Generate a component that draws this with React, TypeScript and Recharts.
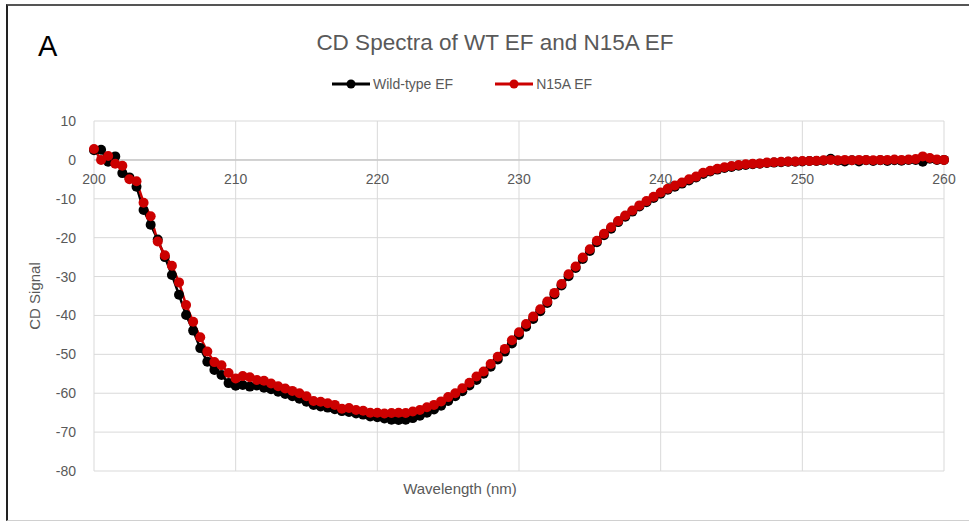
import React from "react";
import { LineChart, Line, XAxis, YAxis, CartesianGrid, Legend, ReferenceLine, Label } from "recharts";

const wavelengths = [
  200, 200.5, 201, 201.5, 202, 202.5, 203, 203.5, 204, 204.5,
  205, 205.5, 206, 206.5, 207, 207.5, 208, 208.5, 209, 209.5,
  210, 210.5, 211, 211.5, 212, 212.5, 213, 213.5, 214, 214.5,
  215, 215.5, 216, 216.5, 217, 217.5, 218, 218.5, 219, 219.5,
  220, 220.5, 221, 221.5, 222, 222.5, 223, 223.5, 224, 224.5,
  225, 225.5, 226, 226.5, 227, 227.5, 228, 228.5, 229, 229.5,
  230, 230.5, 231, 231.5, 232, 232.5, 233, 233.5, 234, 234.5,
  235, 235.5, 236, 236.5, 237, 237.5, 238, 238.5, 239, 239.5,
  240, 240.5, 241, 241.5, 242, 242.5, 243, 243.5, 244, 244.5,
  245, 245.5, 246, 246.5, 247, 247.5, 248, 248.5, 249, 249.5,
  250, 250.5, 251, 251.5, 252, 252.5, 253, 253.5, 254, 254.5,
  255, 255.5, 256, 256.5, 257, 257.5, 258, 258.5, 259, 259.5,
  260,
];

const wildType = [
  2.5, 2.6, -0.5, 0.9, -3.4, -4.5, -6.9, -12.9, -16.7, -20.5,
  -25.0, -29.6, -34.7, -39.9, -43.9, -48.4, -51.9, -54.0, -55.3, -57.4,
  -58.1, -57.9, -58.3, -58.0, -58.6, -59.0, -59.6, -60.2, -60.8, -61.4,
  -62.2, -63.0, -63.4, -63.7, -64.1, -64.6, -64.8, -65.2, -65.5, -66.0,
  -66.2, -66.5, -66.8, -66.9, -66.8, -66.4, -65.8, -65.0, -64.2, -63.2,
  -62.0, -60.8, -59.5, -58.0, -56.6, -55.0, -53.2, -51.3, -49.3, -47.2,
  -45.0, -42.9, -40.9, -38.9, -36.8, -34.6, -32.3, -29.9, -27.8, -25.5,
  -23.4, -21.2, -19.4, -17.7, -16.0, -14.6, -13.3, -12.0, -10.9, -9.8,
  -8.7, -7.7, -6.9, -6.1, -5.3, -4.5, -3.6, -3.0, -2.5, -2.1,
  -1.8, -1.5, -1.3, -1.1, -1.0, -0.8, -0.7, -0.6, -0.5, -0.5,
  -0.4, -0.3, -0.3, -0.2, 0.3, -0.2, -0.4, -0.1, -0.4, -0.1,
  -0.3, -0.1, -0.3, -0.1, -0.2, 0.0, 0.0, -0.5, 0.3, 0.0,
  0.0,
];

const n15a = [
  2.8, 0.0, 1.0, -1.0, -1.5, -5.0, -5.5, -11.0, -14.5, -21.0,
  -24.5, -27.2, -31.5, -37.3, -41.6, -45.6, -49.3, -52.0, -52.8, -54.8,
  -56.2, -55.6, -55.9, -56.6, -56.8, -57.5, -58.2, -58.8, -59.4, -60.0,
  -60.8, -62.0, -62.2, -62.6, -63.0, -64.0, -63.8, -64.3, -64.5, -65.0,
  -65.0, -65.2, -65.1, -65.0, -65.1, -64.7, -64.3, -63.6, -63.0, -62.1,
  -61.0, -60.0, -58.7, -57.3, -55.7, -54.4, -52.5, -50.6, -48.6, -46.4,
  -44.3, -42.2, -40.3, -38.4, -36.4, -34.2, -31.9, -29.4, -27.4, -25.1,
  -23.0, -20.8, -19.0, -17.3, -15.7, -14.3, -13.0, -11.7, -10.6, -9.5,
  -8.4, -7.4, -6.6, -5.8, -5.0, -4.3, -3.3, -2.8, -2.3, -1.9,
  -1.6, -1.3, -1.1, -1.0, -0.9, -0.7, -0.6, -0.5, -0.4, -0.4,
  -0.3, -0.3, -0.2, -0.1, 0.0, -0.1, 0.0, -0.1, 0.0, 0.0,
  -0.1, 0.0, 0.0, 0.1, 0.0, 0.1, 0.2, 0.9, 0.5, 0.1,
  0.0,
];

const xTicks = [200, 210, 220, 230, 240, 250, 260];
const yTicks = [-80, -70, -60, -50, -40, -30, -20, -10, 0, 10];
const seriesNames = ["Wild-type EF", "N15A EF"];
const seriesColors = ["#000000", "#cc0000"];

const data = wavelengths.map((w, i) => ({ w, wt: wildType[i], n15a: n15a[i] }));

const W = 969;
const H = 527;
const M_TOP = 121;
const X_AXIS_H = 20;
const M_BOTTOM = 36;
const PLOT_H = H - M_TOP - M_BOTTOM - X_AXIS_H;
const Y_MIN = -80;
const Y_MAX = 10;
// distance from the x-axis (plot bottom) up to the zero line, from the y scale
const ZERO_UP = (PLOT_H * (0 - Y_MIN)) / (Y_MAX - Y_MIN);

const FONT = "'Liberation Sans', Arial, sans-serif";

const XTick = (props: any) => {
  const { x, y, payload } = props;
  return (
    <text x={x} y={y - ZERO_UP + 16} textAnchor="middle" fill="#595959" fontSize={14} fontFamily={FONT}>
      {payload.value}
    </text>
  );
};

const LegendContent = () => (
  <div style={{ display: "flex", alignItems: "center", fontFamily: FONT, fontSize: 14, color: "#595959" }}>
    {seriesNames.map((n, i) => (
      <div key={n} style={{ display: "flex", alignItems: "center", marginRight: i === 0 ? 42 : 0 }}>
        <svg width={38} height={12} style={{ marginRight: 3 }}>
          <line x1={0} y1={6} x2={38} y2={6} stroke={seriesColors[i]} strokeWidth={3} />
          <circle cx={19} cy={6} r={4.5} fill={seriesColors[i]} />
        </svg>
        <span>{n}</span>
      </div>
    ))}
  </div>
);

export default function App() {
  return (
    <div style={{ position: "absolute", left: 0, top: 0, width: W, height: H, background: "#fff", overflow: "hidden" }}>
      <div
        style={{
          position: "absolute",
          left: 6,
          top: 4,
          width: 1000,
          height: 517,
          borderLeft: "2px solid #222",
          borderTop: "2px solid #555",
          borderBottom: "1px solid #d0d0d0",
          boxSizing: "border-box",
        }}
      />
      <div
        style={{
          position: "absolute",
          left: 38,
          top: 30,
          fontFamily: FONT,
          fontSize: 29,
          color: "#000",
        }}
      >
        A
      </div>
      <div
        style={{
          position: "absolute",
          left: 0,
          width: 990,
          top: 30,
          textAlign: "center",
          fontFamily: FONT,
          fontSize: 22.5,
          color: "#595959",
        }}
      >
        CD Spectra of WT EF and N15A EF
      </div>
      <div style={{ position: "absolute", left: 0, top: 0 }}>
        <LineChart width={W} height={H} data={data} margin={{ top: M_TOP, right: 25, bottom: M_BOTTOM, left: 0 }}>
          <CartesianGrid stroke="#d9d9d9" strokeWidth={1} />
          <XAxis
            dataKey="w"
            type="number"
            domain={[200, 260]}
            ticks={xTicks}
            axisLine={false}
            tickLine={false}
            height={X_AXIS_H}
            tick={<XTick />}
            interval={0}
          />
          <YAxis
            type="number"
            domain={[Y_MIN, Y_MAX]}
            ticks={yTicks}
            axisLine={false}
            tickLine={false}
            width={94}
            tickMargin={12}
            interval={0}
            tick={{ fill: "#595959", fontSize: 14, fontFamily: FONT }}
          >
            <Label
              value="CD Signal"
              angle={-90}
              position="insideLeft"
              offset={35}
              style={{ fill: "#595959", fontSize: 15, fontFamily: FONT, textAnchor: "middle" }}
            />
          </YAxis>
          <ReferenceLine y={0} stroke="#c8c8c8" strokeWidth={1.5} />
          <Legend
            verticalAlign="middle"
            align="center"
            layout="horizontal"
            content={<LegendContent />}
            wrapperStyle={{ position: "absolute", top: 76, left: 332, width: 320 }}
          />
          <Line
            type="linear"
            dataKey="wt"
            name={seriesNames[0]}
            stroke={seriesColors[0]}
            strokeWidth={2.5}
            dot={{ r: 5, fill: seriesColors[0], stroke: seriesColors[0], strokeWidth: 0 }}
            isAnimationActive={false}
          />
          <Line
            type="linear"
            dataKey="n15a"
            name={seriesNames[1]}
            stroke={seriesColors[1]}
            strokeWidth={2.5}
            dot={{ r: 5, fill: seriesColors[1], stroke: seriesColors[1], strokeWidth: 0 }}
            isAnimationActive={false}
          />
        </LineChart>
      </div>
      <div
        style={{
          position: "absolute",
          left: 360,
          width: 200,
          top: 480,
          textAlign: "center",
          fontFamily: FONT,
          fontSize: 15,
          color: "#595959",
        }}
      >
        Wavelength (nm)
      </div>
    </div>
  );
}
